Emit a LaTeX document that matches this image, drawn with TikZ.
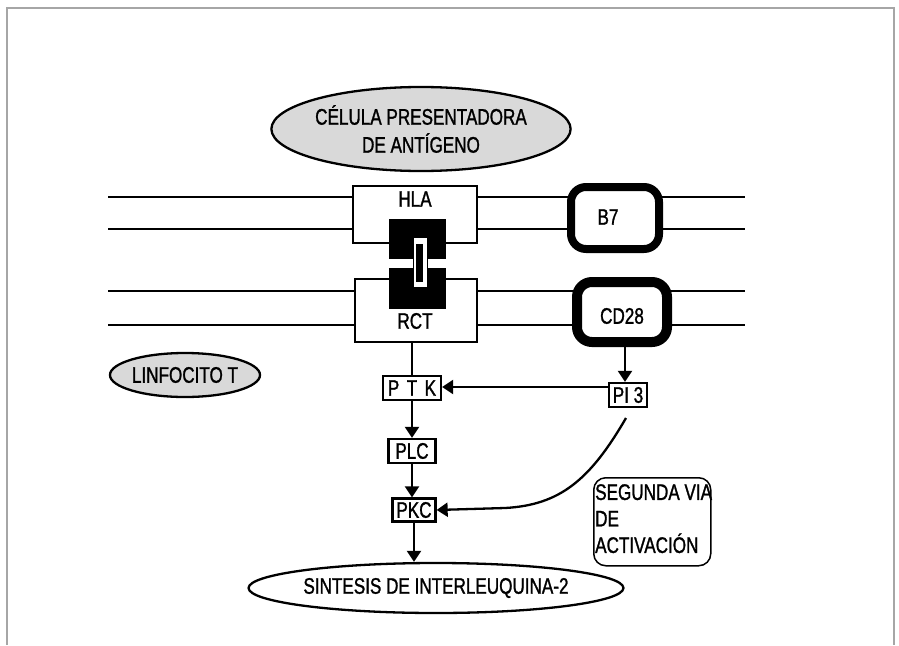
\documentclass[tikz,border=0pt]{standalone}
\usepackage{fontspec}
\setmainfont{Liberation Sans}[FakeStretch=0.76,FakeBold=1.2]
\usetikzlibrary{arrows.meta,shapes.geometric}
\begin{document}
\begin{tikzpicture}[x=1pt,y=-1pt,
  lbl/.style={font=\fontsize{22.5}{24}\selectfont},
  mem/.style={line width=2.3pt},
  rbox/.style={draw,fill=white,line width=2.3pt},
  sbox/.style={draw,fill=white,line width=2.3pt,inner sep=0pt,font=\fontsize{22.5}{24}\selectfont},
  ell/.style={draw,ellipse,line width=2.3pt,inner sep=0pt},
  conn/.style={line width=2.3pt},
  arr/.style={line width=2.3pt,-{Triangle[length=11pt,width=14pt]}},
  thick rb/.style={draw,fill=white,rounded corners=15pt}]
\useasboundingbox (0,0) rectangle (899,645);
\fill[white] (0,0) rectangle (899,645);
% frame
\draw[line width=1.5pt,gray!70] (7,645) -- (7,8) -- (894,8) -- (894,645);

% membranes
\draw[mem] (108,197) -- (745,197);
\draw[mem] (108,229) -- (745,229);
\draw[mem] (108,291) -- (745,291);
\draw[mem] (108,325) -- (745,325);

% APC ellipse
\node[ell,fill=gray!30,minimum width=262pt,minimum height=84pt,align=center,
  font=\fontsize{22.5}{28}\selectfont] (apc) at (421,129) {CÉLULA PRESENTADORA\\DE ANTÍGENO};

% HLA and RCT boxes
\draw[rbox] (353,186) rectangle (477,243);
\node[lbl] (hla) at (415,199) {HLA};
\draw[rbox] (355,279) rectangle (477,342);
\node[lbl] (rct) at (415,321) {RCT};
\coordinate (rctb) at (412,342);

% interlocking black shapes
\fill[black] (389,219) rectangle (446,259);
\fill[black] (389,268) rectangle (446,309);
\draw[fill=white,line width=1pt] (413,237) rectangle (427,287);
\fill[black] (416,244) rectangle (423,282);

% B7 and CD28
\draw[thick rb,line width=8pt] (571,187) rectangle (659,249);
\node[lbl] (b7) at (608,217) {B7};
\draw[thick rb,line width=10pt] (577,282) rectangle (667,342);
\node[lbl] (cd28) at (622,316) {CD28};
\coordinate (cd28b) at (625,347);

% Linfocito T
\node[ell,fill=gray!30,minimum width=124pt,minimum height=44pt,lbl] (lt) at (185,375) {LINFOCITO T};

% signalling boxes
\node[sbox,minimum width=58pt,minimum height=24pt] (ptk) at (412,388) {P\,\,T\,\,K};
\node[sbox,minimum width=38pt,minimum height=24pt] (pi3) at (628,395) {PI 3};
\node[sbox,minimum width=47pt,minimum height=24pt] (plc) at (412,451) {PLC};
\node[sbox,minimum width=43pt,minimum height=23pt] (pkc) at (414,510) {PKC};

% connectors
\draw[conn] (rctb) -- (ptk.north);
\draw[arr] (cd28b) -- (pi3.north -| cd28b);
\draw[arr] (pi3.west |- 0,387) -- (ptk.east |- 0,387);
\draw[arr] (ptk) -- (plc);
\draw[arr] (plc.south) -- (plc.south |- pkc.north);
\coordinate (cs) at (626,418);
\draw[arr] (cs) .. controls (590,480) and (560,505) .. (505,508) -- (pkc.east);

% Segunda via box
\node[draw,line width=1.5pt,rounded corners=12pt,minimum width=117pt,minimum height=88pt,
  anchor=north west,inner sep=0pt] (sv) at (593,477) {};
\node[anchor=north west,align=left,inner sep=0pt,font=\fontsize{22.5}{26.5}\selectfont] (svt) at (595,484)
  {SEGUNDA VIA\\DE\\ACTIVACIÓN};

% Sintesis
\node[ell,fill=white,minimum width=298pt,minimum height=50pt,lbl] (il2) at (436,588) {SINTESIS DE INTERLEUQUINA-2};
\draw[arr] (pkc.south) -- (pkc.south |- il2.north);
\end{tikzpicture}
\end{document}
